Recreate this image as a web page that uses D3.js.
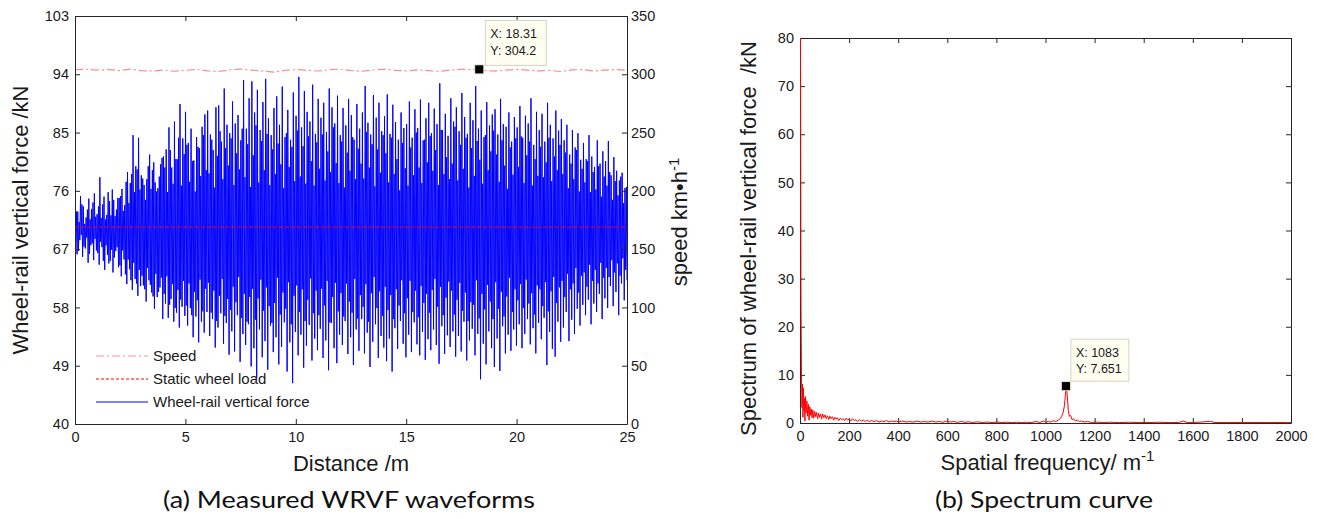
<!DOCTYPE html>
<html><head><meta charset="utf-8">
<script src="https://cdn.jsdelivr.net/npm/d3@7"></script>
<style>
body{margin:0;background:#fff}
svg{display:block}
text{font-family:Arial,"Liberation Sans",sans-serif;fill:#1a1a1a}
</style>
</head><body>
<svg id="c" width="1320" height="519"></svg>
<script>
// ---------- (a) wheel-rail vertical force: 8 cycles per metre ----------
// outer peaks
const forceMax = [
 74.5,72.8,75.2,73.6,71.9,74.8,73.2,75.6,
 72.4,78.1,73.9,71.6,75.8,72.2,74.6,73.1,
 74.9,76.3,73.8,78.9,77.2,84.6,79.8,84.2,
 78.4,76.9,77.8,81.6,79.2,77.3,76.4,80.1,
 81.3,82.4,85.8,79.6,86.7,80.9,89.4,84.1,
 88.2,83.4,85.6,80.7,84.3,82.6,85.9,87.8,
 88.4,84.7,82.3,88.9,89.2,83.6,91.8,86.2,
 84.9,89.8,86.4,87.7,83.8,93.1,85.6,90.3,
 92.9,88.1,91.6,85.4,89.7,93.3,87.2,84.6,
 88.8,90.6,86.2,92.1,84.3,88.5,83.9,91.2,
 87.6,93.6,85.8,91.4,88.2,86.7,92.4,84.8,
 90.2,87.3,89.6,85.1,91.8,88.9,86.4,90.7,
 84.6,88.8,86.1,90.2,87.7,83.9,89.4,85.6,
 88.1,92.2,86.5,84.7,90.8,87.3,89.6,85.2,
 87.5,90.9,84.8,89.3,86.6,83.9,88.1,85.7,
 86.3,89.8,84.2,88.6,85.7,90.1,83.8,87.2,
 89.6,84.9,88.7,86.3,92.6,85.4,87.9,84.5,
 90.3,86.7,88.9,85.2,91.1,87.4,84.8,89.6,
 86.9,92.2,85.6,88.4,84.3,89.7,86.1,87.8,
 88.6,84.7,90.2,86.3,85.9,88.1,83.6,87.4,
 85.8,89.1,84.2,87.6,86.4,90.3,83.1,88.2,
 85.4,87.9,83.6,89.6,86.2,84.1,88.4,85.3,
 87.1,83.8,86.2,81.6,85.4,82.7,84.9,80.8,
 83.4,80.9,84.6,81.3,79.7,83.8,80.2,82.1,
 80.6,83.7,78.4,81.2,79.1,77.6,78.8,76.4
];
// outer troughs
const forceMin = [
 66.2,68.4,65.8,67.1,64.9,67.6,65.3,66.8,
 64.6,67.3,63.8,66.1,65.2,63.4,66.7,64.2,
 62.8,65.4,61.6,63.9,60.7,62.4,59.8,61.3,
 61.4,58.9,62.2,60.3,57.8,59.6,61.1,56.2,
 58.6,56.4,59.3,55.8,57.2,54.9,58.1,56.7,
 55.2,57.9,53.4,56.6,52.6,55.8,54.1,57.3,
 53.6,56.2,51.8,54.9,57.1,52.4,55.6,50.7,
 54.3,51.2,56.8,49.6,53.9,52.2,55.4,48.9,
 51.7,47.1,54.6,50.3,52.8,48.4,55.2,51.1,
 53.4,49.2,51.9,55.7,48.1,52.6,46.3,54.2,
 50.6,53.8,48.7,52.1,55.3,49.8,53.2,51.4,
 54.7,50.2,52.9,48.3,55.6,51.7,49.4,53.8,
 52.2,55.9,50.8,53.4,49.1,54.6,51.3,56.2,
 50.9,54.1,48.8,52.7,55.4,50.2,53.6,51.8,
 49.7,53.2,48.1,54.8,51.6,55.9,52.4,50.3,
 53.8,51.1,55.7,52.3,50.6,54.2,49.9,53.1,
 51.4,54.6,52.2,49.3,55.1,50.8,53.7,51.9,
 54.3,50.4,53.6,51.2,55.8,49.8,52.9,54.7,
 50.6,53.9,46.9,52.4,49.2,54.3,51.7,48.8,
 53.2,48.2,55.1,50.9,53.8,51.3,54.6,52.1,
 55.4,51.7,53.9,56.2,52.3,54.8,50.9,55.6,
 53.1,56.4,49.1,54.2,51.6,50.4,55.8,52.7,
 54.9,57.3,52.8,56.1,53.9,57.8,55.2,58.4,
 56.8,59.2,55.4,58.6,57.3,60.1,56.2,59.4,
 57.9,61.3,58.2,60.4,56.8,61.7,59.1,62.2
];
// inner (dense core) highs
const coreHi = [
 72.8,71.2,73.9,70.9,73.1,71.6,74.2,72.0,
 73.6,71.8,75.1,72.3,74.4,76.2,72.1,74.9,
 75.2,72.9,77.4,74.1,78.6,75.8,79.3,76.2,
 77.9,74.6,79.8,76.3,80.4,75.9,78.2,81.1,
 79.6,75.8,82.3,77.1,80.9,84.2,76.8,81.7,
 83.1,77.4,80.6,75.9,82.8,78.3,84.6,79.2,
 78.7,83.9,76.5,81.4,85.2,77.8,82.6,79.9,
 84.1,76.9,81.8,79.3,85.6,78.1,83.2,76.6,
 81.5,86.1,77.3,83.7,79.2,84.8,76.9,82.4,
 78.6,83.3,80.1,76.4,84.9,79.7,82.8,77.5,
 85.3,78.2,82.9,77.1,84.4,80.6,76.8,83.5,
 79.4,84.7,77.6,82.1,78.9,85.8,80.3,77.2,
 83.6,76.5,81.9,79.1,84.3,77.8,82.5,80.2,
 77.9,85.1,79.6,83.2,76.7,82.4,78.8,84.6,
 81.8,77.3,84.2,78.6,80.9,76.1,83.4,79.5,
 76.8,82.7,78.4,85.0,79.6,77.2,83.9,80.4,
 84.5,79.1,82.3,76.9,85.4,78.6,81.2,77.8,
 80.2,85.9,77.6,83.1,79.4,84.2,76.5,82.6,
 78.3,83.7,80.8,77.1,84.6,79.2,82.1,85.3,
 81.6,77.4,83.8,79.9,76.3,82.7,78.5,84.1,
 79.7,84.4,77.2,81.5,83.6,76.8,80.9,78.3,
 82.8,78.1,80.4,84.2,77.5,81.3,79.2,83.1,
 78.6,81.9,76.4,80.2,77.8,82.3,75.9,79.4,
 77.3,80.6,75.8,78.9,76.2,79.8,75.1,78.2,
 76.8,78.9,74.6,77.5,75.3,78.2,74.1,76.6
];
// inner (dense core) lows
const coreLo = [
 68.1,66.7,69.2,67.4,68.8,66.3,67.9,68.6,
 66.4,68.1,65.2,67.6,64.8,66.9,65.7,67.3,
 64.5,66.8,63.1,65.4,62.2,64.9,61.7,63.8,
 62.9,60.8,64.1,61.5,59.7,63.2,60.4,62.6,
 60.1,62.8,58.4,61.6,57.9,60.7,59.2,62.1,
 58.3,61.7,56.8,60.4,59.1,62.3,57.4,60.9,
 61.8,57.2,60.6,55.9,59.8,62.4,56.7,59.3,
 57.6,61.2,58.8,62.7,56.4,60.1,55.8,59.6,
 60.9,56.1,59.4,62.3,57.5,61.1,58.2,55.6,
 58.7,62.6,56.9,60.3,57.8,61.9,55.4,59.8,
 61.4,57.3,60.8,55.9,59.2,62.5,57.1,60.6,
 56.8,60.9,58.3,62.1,55.7,59.6,61.8,57.4,
 60.2,56.6,61.7,58.9,57.2,62.4,56.3,59.9,
 58.1,61.6,55.8,60.2,62.7,57.9,60.5,56.7,
 61.2,57.6,59.9,56.2,60.8,58.3,62.2,57.1,
 59.4,62.1,57.3,60.6,56.5,61.3,58.7,60.1,
 57.2,60.7,62.4,58.1,61.2,56.8,59.5,62.0,
 60.6,56.9,59.2,61.8,57.5,60.3,55.9,58.8,
 58.4,62.2,56.3,60.1,57.7,61.5,58.9,56.2,
 61.9,57.8,60.4,56.6,59.7,62.6,57.3,60.8,
 59.1,61.6,57.9,62.3,58.6,60.2,56.9,61.4,
 60.8,58.2,61.9,57.4,60.5,62.7,58.7,61.1,
 62.1,59.6,63.2,60.8,61.7,64.1,60.3,62.9,
 63.4,61.2,64.6,62.1,63.8,61.7,64.9,62.6,
 64.1,62.7,65.3,63.4,64.8,62.9,65.6,63.8
];
// speed (km/h) every 0.5 m
const speedVals = [
 303.9,304.3,303.6,304.0,303.2,304.4,303.1,302.8,303.7,302.6,
 303.4,304.2,303.0,302.4,303.8,304.5,303.6,302.7,301.9,303.3,
 304.1,303.5,302.8,303.9,304.4,303.2,302.6,303.7,304.3,303.4,
 302.9,303.8,303.1,302.5,303.6,304.2,304.2,303.4,302.7,303.5,
 304.3,303.6,302.9,303.3,302.4,303.7,304.1,302.8,303.6,304.0,303.4
];
const staticLoad = 70.4;
const forceTicks = [40,49,58,67,76,85,94,103];
const speedTicks = [0,50,100,150,200,250,300,350];
const distTicks = [0,5,10,15,20,25];
const legendLabels = ["Speed","Static wheel load","Wheel-rail vertical force"];
const tipA = [18.31, 304.2];

// ---------- (b) spectrum ----------
const specFreq = [
 0,2,4,6,8,10,12,14,16,18,20,23,26,29,32,35,38,41,44,47,
 50,54,58,62,66,70,74,78,82,86,90,95,100,105,110,115,120,125,130,135,
 140,145,150,156,162,168,174,180,186,192,198,205,212,219,226,233,240,248,256,264,
 272,280,290,300,310,320,330,340,350,360,370,380,390,400,415,430,445,460,475,490,
 505,520,535,550,565,580,595,610,625,640,655,670,685,700,720,740,760,780,800,820,
 840,860,880,900,920,940,960,975,990,1000,1010,1020,1030,1040,1050,1058,1064,1070,1075,1079,
 1083,1087,1091,1095,1100,1106,1112,1120,1128,1136,1145,1155,1170,1185,1200,1230,1260,1300,1340,1380,
 1420,1460,1500,1540,1560,1575,1620,1670,1685,1740,1800,1860,1920,1980,2000
];
const specAmp = [
 84,26,10.4,3.2,8.1,1.2,7.3,2.6,5.1,0.4,5.5,2.1,4.6,1.4,3.9,0.6,3.4,1.6,2.9,1.1,
 2.7,1.0,2.4,1.3,2.2,0.9,2.0,1.2,1.8,0.8,1.9,1.1,1.7,0.9,1.5,0.7,1.4,0.9,1.3,0.6,
 1.2,0.8,1.1,0.5,1.0,0.7,0.9,0.5,1.0,0.6,0.8,0.4,0.9,0.5,0.7,0.3,0.7,0.4,0.6,0.3,
 0.6,0.3,0.5,0.3,0.5,0.2,0.4,0.3,0.5,0.2,0.4,0.3,0.4,0.2,0.4,0.2,0.3,0.2,0.4,0.2,
 0.3,0.2,0.4,0.2,0.3,0.15,0.4,0.2,0.3,0.15,0.3,0.15,0.25,0.1,0.25,0.1,0.2,0.1,0.2,0.1,
 0.15,0.1,0.15,0.1,0.15,0.1,0.3,0.1,0.4,0.15,0.3,0.2,0.5,0.3,0.6,0.9,1.4,2.2,3.6,5.8,
 7.65,5.4,2.6,1.4,1.6,0.7,0.9,0.4,0.6,0.3,0.4,0.2,0.3,0.1,0.2,0.1,0.15,0.1,0.15,0.1,
 0.1,0.15,0.1,0.1,0.4,0.1,0.15,0.35,0.1,0.1,0.1,0.1,0.1,0.1,0.1
];
const ampTicks = [0,10,20,30,40,50,60,70,80];
const freqTicks = [0,200,400,600,800,1000,1200,1400,1600,1800,2000];
const tipB = [1083, 7.651];

const svg = d3.select("#c");
const AX = "#262626";

function styleAxis(g){
  g.selectAll(".domain").attr("stroke",AX).attr("stroke-width",1);
  g.selectAll(".tick line").attr("stroke",AX);
  g.selectAll(".tick text").attr("fill","#1a1a1a").style("font-family","Arial, 'Liberation Sans', sans-serif").style("font-size","14.5px");
}

// ================= Panel (a) =================
const A = {l:75, r:627, t:16, b:424};
const xA = d3.scaleLinear().domain([0,25]).range([A.l, A.r]);
const yF = d3.scaleLinear().domain([40,103]).range([A.b, A.t]);
const yS = d3.scaleLinear().domain([0,350]).range([A.b, A.t]);

svg.append("clipPath").attr("id","clipA").append("rect")
  .attr("x",A.l).attr("y",A.t).attr("width",A.r-A.l).attr("height",A.b-A.t);

const nC = Math.min(forceMax.length, forceMin.length, coreHi.length, coreLo.length);
const force = [];
for (let i=0;i<nC;i++){ force.push(forceMax[i], coreLo[i], coreHi[i], forceMin[i]); }
const fStep = 25/(force.length-1);
const gA = svg.append("g").attr("clip-path","url(#clipA)");
gA.append("path").datum(force)
  .attr("fill","none").attr("stroke","#0000ff").attr("stroke-width",1)
  .attr("d", d3.line().x((d,i)=>xA(i*fStep)).y(d=>yF(d)));
gA.append("line")
  .attr("x1",xA(0)).attr("x2",xA(25)).attr("y1",yF(staticLoad)).attr("y2",yF(staticLoad))
  .attr("stroke","#ff0000").attr("stroke-width",1).attr("stroke-dasharray","4,2");
const sStep = 25/(speedVals.length-1);
gA.append("path").datum(speedVals)
  .attr("fill","none").attr("stroke","#ff8a8a").attr("stroke-width",1.2)
  .attr("stroke-dasharray","8,3,2,3")
  .attr("d", d3.line().x((d,i)=>xA(i*sStep)).y(d=>yS(d)));

// axes (a)
const axA1 = svg.append("g").attr("transform",`translate(${A.l},0)`)
  .call(d3.axisLeft(yF).tickValues(forceTicks).tickSize(-5).tickSizeOuter(0).tickPadding(6));
const axA2 = svg.append("g").attr("transform",`translate(${A.r},0)`)
  .call(d3.axisRight(yS).tickValues(speedTicks).tickSize(-5).tickSizeOuter(0).tickPadding(4));
const axA3 = svg.append("g").attr("transform",`translate(0,${A.b})`)
  .call(d3.axisBottom(xA).tickValues(distTicks).tickSize(-5).tickSizeOuter(0).tickPadding(8));
const axA4 = svg.append("g").attr("transform",`translate(0,${A.t})`)
  .call(d3.axisTop(xA).tickValues(distTicks).tickSize(-5).tickSizeOuter(0).tickFormat(""));
[axA1,axA2,axA3,axA4].forEach(styleAxis);

// labels (a)
svg.append("text").attr("transform",`translate(28,${(A.t+A.b)/2}) rotate(-90)`)
  .attr("text-anchor","middle").style("font-size","22px").text("Wheel-rail vertical force /kN");
const sp = svg.append("text").attr("transform",`translate(687,${(A.t+A.b)/2+2}) rotate(-90)`)
  .attr("text-anchor","middle").style("font-size","22px");
sp.append("tspan").text("speed km\u2022h");
sp.append("tspan").attr("dy","-8").style("font-size","15px").text("-1");
svg.append("text").attr("x",(A.l+A.r)/2).attr("y",471).attr("text-anchor","middle")
  .style("font-size","22px").text("Distance /m");

// legend (a)
const legY = [356,379,402];
const legStyles = [
  {c:"#ff8a8a",d:"8,3,2,3",w:1.2},
  {c:"#ff0000",d:"3,2",w:1},
  {c:"#0000ff",d:null,w:1}
];
legendLabels.forEach((t,i)=>{
  svg.append("line").attr("x1",96).attr("x2",148).attr("y1",legY[i]).attr("y2",legY[i])
    .attr("stroke",legStyles[i].c).attr("stroke-width",legStyles[i].w)
    .attr("stroke-dasharray",legStyles[i].d);
  svg.append("text").attr("x",153).attr("y",legY[i]).attr("dy","0.36em")
    .style("font-size","15px").text(t);
});

// data tip (a)
const mAx = xA(tipA[0]), mAy = yS(tipA[1]);
svg.append("rect").attr("x",mAx-4.5).attr("y",mAy-4.5).attr("width",9).attr("height",9)
  .attr("fill","#000").attr("stroke","#f4f0d0").attr("stroke-width",0.8);
svg.append("rect").attr("x",mAx+6).attr("y",mAy-49).attr("width",61).attr("height",45)
  .attr("fill","#fdfdf0").attr("stroke","#d4d4c4").attr("stroke-width",1);
svg.append("text").attr("x",mAx+11).attr("y",mAy-31).style("font-size","12.5px").text("X: "+tipA[0]);
svg.append("text").attr("x",mAx+11).attr("y",mAy-14).style("font-size","12.5px").text("Y: "+tipA[1]);

// ================= Panel (b) =================
const B = {l:800, r:1291, t:38, b:423};
const xB = d3.scaleLinear().domain([0,2000]).range([B.l, B.r]);
const yB = d3.scaleLinear().domain([0,80]).range([B.b, B.t]);

const axB1 = svg.append("g").attr("transform",`translate(${B.l},0)`)
  .call(d3.axisLeft(yB).tickValues(ampTicks).tickSize(-5).tickSizeOuter(0).tickPadding(6));
const axB2 = svg.append("g").attr("transform",`translate(${B.r},0)`)
  .call(d3.axisRight(yB).tickValues(ampTicks).tickSize(-5).tickSizeOuter(0).tickFormat(""));
const axB3 = svg.append("g").attr("transform",`translate(0,${B.b})`)
  .call(d3.axisBottom(xB).tickValues(freqTicks).tickFormat(d3.format("d")).tickSize(-5).tickSizeOuter(0).tickPadding(8));
const axB4 = svg.append("g").attr("transform",`translate(0,${B.t})`)
  .call(d3.axisTop(xB).tickValues(freqTicks).tickSize(-5).tickSizeOuter(0).tickFormat(""));
[axB1,axB2,axB3,axB4].forEach(styleAxis);

// spectrum drawn over the axes, as in the reference
svg.append("clipPath").attr("id","clipB").append("rect")
  .attr("x",B.l-1).attr("y",B.t).attr("width",B.r-B.l+1).attr("height",B.b-B.t+1);
svg.append("g").attr("clip-path","url(#clipB)").append("path")
  .datum(specFreq.map((f,i)=>[f,specAmp[i]]))
  .attr("fill","none").attr("stroke","#ff0000").attr("stroke-width",1)
  .attr("d", d3.line().x(d=>xB(d[0])+0.5).y(d=>yB(d[1])));

svg.append("text").attr("transform",`translate(756,${(B.t+B.b)/2+8}) rotate(-90)`)
  .attr("text-anchor","middle").style("font-size","22px")
  .text("Spectrum of wheel-rail vertical force\u00a0\u00a0/kN");
const sf = svg.append("text").attr("x",(B.l+B.r)/2+2).attr("y",470).attr("text-anchor","middle")
  .style("font-size","22px");
sf.append("tspan").text("Spatial frequency/ m");
sf.append("tspan").attr("dy","-9").style("font-size","15px").text("-1");

// data tip (b)
const mBx = xB(tipB[0]), mBy = yB(tipB[1]);
svg.append("rect").attr("x",mBx-4.5).attr("y",mBy-4.5).attr("width",9).attr("height",9)
  .attr("fill","#000").attr("stroke","#f4f0d0").attr("stroke-width",0.8);
svg.append("rect").attr("x",mBx+5).attr("y",mBy-47).attr("width",58).attr("height",42)
  .attr("fill","#fdfdf0").attr("stroke","#d4d4c4").attr("stroke-width",1);
svg.append("text").attr("x",mBx+10).attr("y",mBy-29).style("font-size","12.5px").text("X: "+tipB[0]);
svg.append("text").attr("x",mBx+10).attr("y",mBy-13).style("font-size","12.5px").text("Y: "+tipB[1]);

// captions
svg.append("text").attr("x",349).attr("y",508).attr("text-anchor","middle")
  .style("font-family","Lato, 'Open Sans', sans-serif").style("font-size","23px").style("fill","#111")
  .attr("textLength",372).attr("lengthAdjust","spacingAndGlyphs")
  .text("(a) Measured WRVF waveforms");
svg.append("text").attr("x",1044).attr("y",508).attr("text-anchor","middle")
  .style("font-family","Lato, 'Open Sans', sans-serif").style("font-size","23px").style("fill","#111")
  .attr("textLength",218).attr("lengthAdjust","spacingAndGlyphs")
  .text("(b) Spectrum curve");
</script>
</body></html>
